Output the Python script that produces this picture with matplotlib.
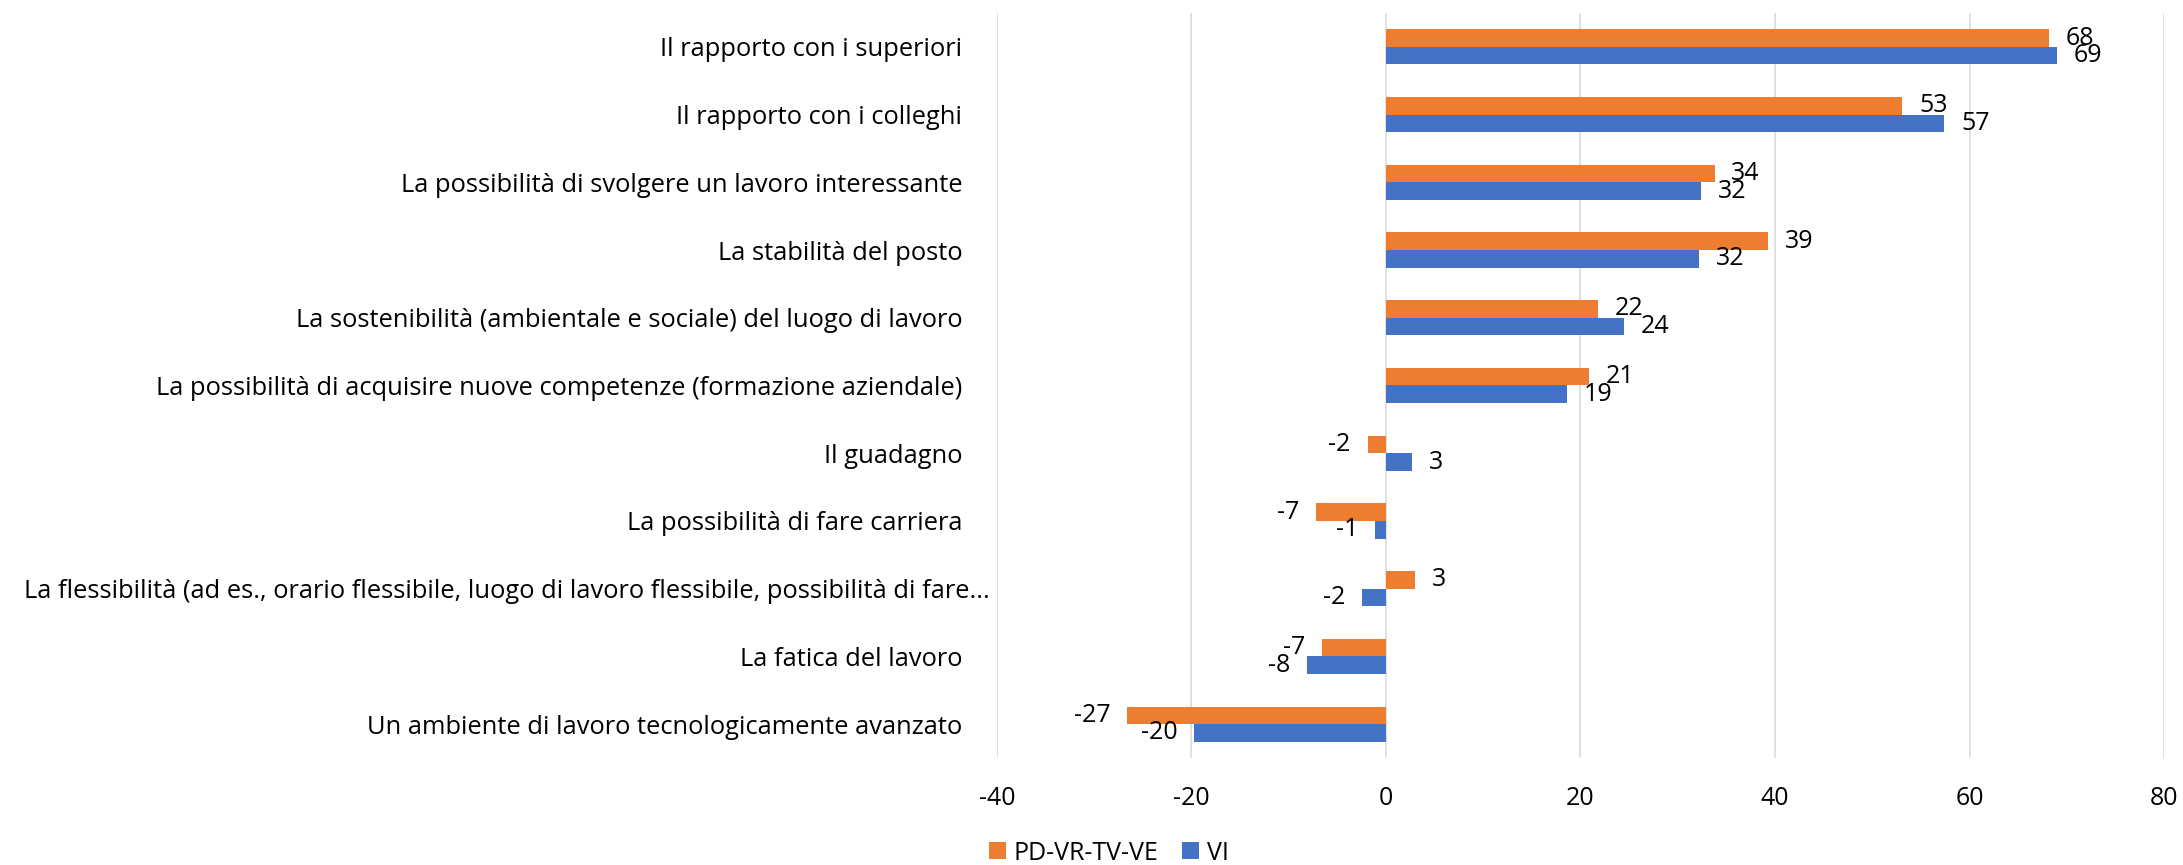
import numpy as np
import matplotlib
matplotlib.use("Agg")
import matplotlib.pyplot as plt
import matplotlib.transforms as mtransforms

# Dati
categories = [
    "Il rapporto con i superiori",
    "Il rapporto con i colleghi",
    "La possibilità di svolgere un lavoro interessante",
    "La stabilità del posto",
    "La sostenibilità (ambientale e sociale) del luogo di lavoro",
    "La possibilità di acquisire nuove competenze (formazione aziendale)",
    "Il guadagno",
    "La possibilità di fare carriera",
    "La flessibilità (ad es., orario flessibile, luogo di lavoro flessibile, possibilità di fare...",
    "La fatica del lavoro",
    "Un ambiente di lavoro tecnologicamente avanzato",
]
series_names = ["PD-VR-TV-VE", "VI"]
pd_vr_tv_ve = [68.2, 53.1, 33.8, 39.3, 21.8, 20.9, -1.9, -7.2, 3.0, -6.6, -26.6]
vi = [69.0, 57.4, 32.4, 32.2, 24.5, 18.6, 2.7, -1.1, -2.5, -8.1, -19.7]
x_ticks = [-40, -20, 0, 20, 40, 60, 80]

orange = "#ED7D31"
blue = "#4472C4"

plt.rcParams["font.family"] = ["Open Sans", "DejaVu Sans"]
plt.rcParams["axes.unicode_minus"] = False

fig = plt.figure(figsize=(21.83, 8.65), dpi=100)
ax = fig.add_axes([0.4567, 0.1237, 0.5346, 0.8613])

n = len(categories)
y = np.arange(n)[::-1]
h = 0.26

bars_o = ax.barh(y + h / 2, pd_vr_tv_ve, height=h, color=orange, zorder=3)
bars_b = ax.barh(y - h / 2, vi, height=h, color=blue, zorder=3)

# Etichette dei valori
for bars, vals in [(bars_o, pd_vr_tv_ve), (bars_b, vi)]:
    for b, v in zip(bars, vals):
        yc = b.get_y() + b.get_height() / 2
        off = 12 if v >= 0 else -12
        ax.annotate(f"{round(v):.0f}", xy=(v, yc), xytext=(off, 0),
                    textcoords="offset points", va="center",
                    ha="left" if v >= 0 else "right",
                    fontsize=18, color="black", zorder=4)

ax.set_xlim(-40, 80)
ax.set_ylim(-0.5, n - 0.5)
ax.set_xticks(x_ticks)
ax.set_xticklabels([str(t) for t in x_ticks], fontsize=18)
ax.set_yticks(y)
ax.set_yticklabels(categories, fontsize=18.4)
ax.tick_params(axis="x", length=0, pad=20)
ax.tick_params(axis="y", length=0, pad=25)

# l'etichetta troncata arriva quasi all'asse
for lab in ax.get_yticklabels():
    if lab.get_text().startswith("La flessibilità"):
        lab.set_transform(lab.get_transform() +
                          mtransforms.ScaledTranslation(27 / 100, 0, fig.dpi_scale_trans))

ax.grid(axis="x", color="#D9D9D9", linewidth=1.1, zorder=0)
for s in ax.spines.values():
    s.set_visible(False)

fig.legend([bars_o, bars_b], series_names, loc="center",
           bbox_to_anchor=(1109 / 2183, 1 - 853 / 865), ncol=2, frameon=False,
           fontsize=18, handlelength=0.68, handleheight=0.68,
           handletextpad=0.32, columnspacing=0.96, borderpad=0)

fig.savefig("out.png", dpi=100)
